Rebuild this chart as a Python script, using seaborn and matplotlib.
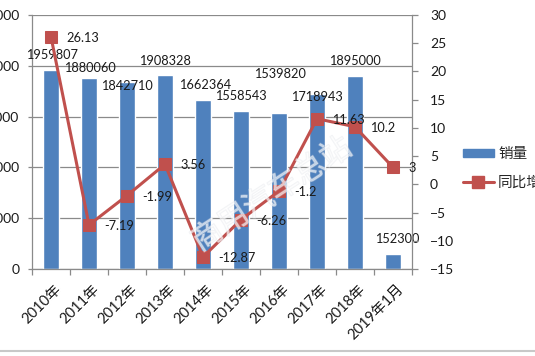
import numpy as np
import pandas as pd
import matplotlib
matplotlib.use("Agg")
import matplotlib.pyplot as plt
import seaborn as sns
from matplotlib.patches import Patch
from matplotlib.lines import Line2D
from matplotlib.ticker import FuncFormatter, FixedLocator
import matplotlib.patheffects as pe
import matplotlib.transforms as mtransforms

# ---------------- data ----------------
categories = ['2010年', '2011年', '2012年', '2013年', '2014年',
              '2015年', '2016年', '2017年', '2018年', '2019年1月']
sales = [1959807, 1880060, 1842710, 1908328, 1662364,
         1558543, 1539820, 1718943, 1895000, 152300]
growth = [26.13, -7.19, -1.99, 3.56, -12.87, -6.26, -1.2, 11.63, 10.2, 3]
left_ticks = [0, 500000, 1000000, 1500000, 2000000, 2500000]
right_ticks = [-15, -10, -5, 0, 5, 10, 15, 20, 25, 30]
series_names = ['销量', '同比增长']
watermark = '商用汽车总站'

# label nudges (pixels) - styling only
bar_lab_dy = [15, 10, -4, 14, 15, 15, 39, -3, 15, 15]
bar_lab_dx = [1, 1, 0, 0, 2, 0, 1, 0, 0, 4]

BLUE = '#4F81BD'
RED = '#C0504D'
GRID = '#8a8a8a'
TXT = '#1a1a1a'
FS = 9.2

sns.set_style('white')
plt.rcParams['font.family'] = ['Lato', 'Noto Sans CJK SC', 'DejaVu Sans']
plt.rcParams['font.size'] = FS

W, H = 535, 356
fig = plt.figure(figsize=(W / 100, H / 100), dpi=100)
fig.patch.set_facecolor('white')
x0, x1, y0, y1 = 32, 412, 15, 269
ax = fig.add_axes([x0 / W, 1 - y1 / H, (x1 - x0) / W, (y1 - y0) / H])

df = pd.DataFrame({'cat': categories, 'sales': sales, 'growth': growth})
sns.barplot(data=df, x='cat', y='sales', color=BLUE, saturation=1,
            width=0.42, ax=ax, zorder=2)
n = len(categories)
ax.set_xlim(-0.5, n - 0.5)
ax.set_ylim(left_ticks[0], left_ticks[-1])
ax.set_yticks(left_ticks)
ax.yaxis.set_major_formatter(FuncFormatter(lambda v, p: f'{int(v)}'))
ax.set_xlabel('')
ax.set_ylabel('')
ax.grid(axis='y', color=GRID, lw=0.9)
ax.grid(axis='x', visible=False)
ax.set_axisbelow(True)
for s in ['top', 'right']:
    ax.spines[s].set_visible(False)
for s in ['left', 'bottom']:
    ax.spines[s].set_color(GRID)
    ax.spines[s].set_linewidth(0.9)

# x ticks: labels at centres, tick marks at category boundaries
ax.set_xticks(range(n))
ax.set_xticklabels(categories, rotation=45, ha='right', va='center',
                   rotation_mode='anchor', color=TXT, fontsize=10.5)
ax.xaxis.set_minor_locator(FixedLocator(np.arange(-0.5, n, 1.0)))
ax.tick_params(axis='x', which='major', length=0, pad=13)
ax.tick_params(axis='x', which='minor', length=4, color=GRID, width=0.9,
               direction='out', bottom=True)
offset = mtransforms.ScaledTranslation(8 / 100, 0, fig.dpi_scale_trans)
for lab in ax.get_xticklabels():
    lab.set_transform(lab.get_transform() + offset)
ax.tick_params(axis='y', length=3, color=GRID, width=0.9, pad=6,
               labelcolor=TXT, labelsize=10, left=True)

for i, v in enumerate(sales):
    ax.annotate(f'{v}', xy=(i, v),
                xytext=(bar_lab_dx[i] * 0.72, bar_lab_dy[i] * 0.72),
                textcoords='offset points', ha='center', va='center',
                color=TXT, fontsize=FS, zorder=5)

# secondary axis: growth line
ax2 = ax.twinx()
sns.lineplot(x=np.arange(n), y=growth, ax=ax2, color=RED, lw=2.2,
             marker='s', markersize=8, markeredgecolor=RED,
             markerfacecolor=RED, zorder=4)
ax2.set_xlim(-0.5, n - 0.5)
ax2.set_ylim(right_ticks[0], right_ticks[-1])
ax2.set_yticks(right_ticks)
ax2.set_ylabel('')
ax2.grid(False)
for s in ['top', 'left', 'bottom']:
    ax2.spines[s].set_visible(False)
ax2.spines['right'].set_color(GRID)
ax2.spines['right'].set_linewidth(0.9)
ax2.tick_params(axis='y', length=4, color=GRID, width=0.9, pad=9,
                labelcolor=TXT, labelsize=10, right=True)

for i, v in enumerate(growth):
    ax2.annotate(f'{v:g}', xy=(i, v), xytext=(15 * 0.72, -1 * 0.72),
                 textcoords='offset points', ha='left', va='center',
                 color=TXT, fontsize=FS, zorder=5)

# watermark
fig.text(272 / W, 1 - 195 / H, watermark, rotation=33, fontsize=22,
         ha='center', va='center', color='white', alpha=0.4,
         family=['Noto Sans CJK SC'], zorder=10,
         path_effects=[pe.withStroke(linewidth=1.0, foreground='#dfe2e8')])

# legend
handles = [Patch(facecolor=BLUE, edgecolor=BLUE),
           Line2D([0], [0], color=RED, lw=2.2, marker='s', markersize=8,
                  markerfacecolor=RED, markeredgecolor=RED)]
fig.legend(handles, series_names, loc='upper left',
           bbox_to_anchor=(463 / W, 1 - 147 / H), frameon=False,
           handlelength=2.1, handleheight=0.45, handletextpad=0.3,
           labelspacing=1.0, borderpad=0, borderaxespad=0,
           prop={'family': ['Noto Sans CJK SC'], 'size': 10.5})

# bottom frame line
fig.add_artist(Line2D([0, 1], [1 - 351 / H] * 2, transform=fig.transFigure,
                      color='#c8c8c8', lw=1.5))

fig.savefig('out.png', dpi=100)
